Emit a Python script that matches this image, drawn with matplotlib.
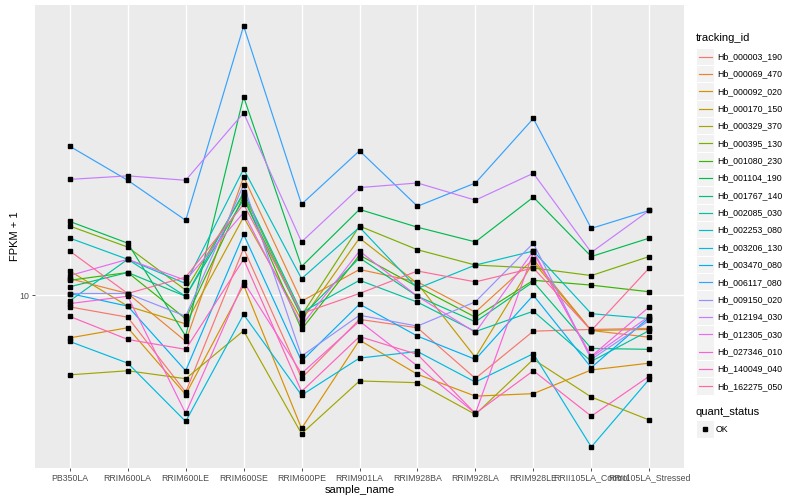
import matplotlib
matplotlib.use("Agg")
import matplotlib.pyplot as plt
from matplotlib.lines import Line2D
from matplotlib.patches import Rectangle

plt.rcParams['font.family'] = ['Liberation Sans', 'DejaVu Sans']

# samples on the x axis
samples = ['PB350LA', 'RRIM600LA', 'RRIM600LE', 'RRIM600SE', 'RRIM600PE', 'RRIM901LA',
           'RRIM928BA', 'RRIM928LA', 'RRIM928LE', 'RRII105LA_Control', 'RRII105LA_Stressed']

# FPKM + 1 per gene, one value per sample
hb_000003_190 = [9.35, 8.81, 5.72, 13.1, 6.20, 8.70, 8.29, 6.19, 8.13, 8.21, 8.26]
hb_000069_470 = [11.0, 10.1, 7.67, 19.8, 9.66, 11.6, 10.8, 9.07, 12.3, 8.16, 7.85]
hb_000092_020 = [7.82, 8.29, 5.64, 10.6, 4.64, 7.72, 6.34, 5.59, 5.67, 6.50, 6.76]
hb_000170_150 = [11.5, 9.39, 8.48, 15.7, 8.65, 13.9, 10.7, 6.99, 12.1, 8.16, 8.21]
hb_000329_370 = [6.32, 6.47, 6.18, 8.15, 4.50, 6.10, 6.04, 5.03, 6.91, 5.56, 4.87]
hb_000395_130 = [14.9, 13.2, 10.3, 17.9, 8.90, 14.9, 13.0, 11.9, 11.7, 11.2, 12.5]
hb_001080_230 = [10.9, 11.4, 8.73, 17.7, 8.21, 12.6, 10.5, 8.81, 10.9, 10.6, 10.2]
hb_001104_190 = [15.3, 13.5, 7.90, 31.4, 11.8, 16.4, 14.8, 13.6, 17.6, 12.5, 13.9]
hb_001767_140 = [10.5, 11.4, 9.94, 17.4, 8.85, 12.4, 9.94, 8.58, 10.8, 7.36, 7.32]
hb_002085_030 = [9.68, 12.3, 9.94, 18.1, 9.05, 10.9, 9.61, 8.11, 9.12, 6.83, 8.16]
hb_002253_080 = [13.9, 12.3, 10.7, 20.7, 11.0, 14.8, 10.4, 11.9, 12.9, 8.99, 8.74]
hb_003206_130 = [7.66, 6.76, 4.83, 8.95, 5.62, 6.96, 7.23, 6.06, 7.14, 4.17, 6.16]
hb_003470_080 = [10.1, 9.39, 6.47, 14.2, 6.84, 9.50, 7.90, 6.91, 10.0, 6.59, 8.80]
hb_006117_080 = [23.6, 19.4, 15.4, 47.2, 16.9, 23.0, 16.7, 19.1, 27.7, 14.7, 16.3]
hb_009150_020 = [10.1, 10.1, 8.86, 18.9, 7.04, 8.91, 8.37, 9.63, 13.5, 6.91, 8.65]
hb_012194_030 = [19.5, 19.9, 19.4, 28.6, 13.6, 18.6, 19.1, 17.3, 20.2, 12.8, 16.3]
hb_012305_030 = [11.2, 12.3, 10.9, 16.1, 8.40, 12.9, 9.94, 8.07, 12.9, 6.99, 8.86]
hb_027346_010 = [9.53, 9.94, 5.06, 10.8, 6.37, 8.61, 6.65, 5.06, 12.8, 7.03, 9.35]
hb_140049_040 = [8.85, 7.75, 7.32, 12.3, 5.74, 7.88, 7.11, 5.06, 6.47, 4.98, 6.27]
hb_162275_050 = [12.9, 10.1, 11.1, 16.9, 9.00, 10.1, 11.5, 10.8, 11.7, 8.16, 11.7]

tracking_ids = ['Hb_000003_190', 'Hb_000069_470', 'Hb_000092_020', 'Hb_000170_150',
                'Hb_000329_370', 'Hb_000395_130', 'Hb_001080_230', 'Hb_001104_190',
                'Hb_001767_140', 'Hb_002085_030', 'Hb_002253_080', 'Hb_003206_130',
                'Hb_003470_080', 'Hb_006117_080', 'Hb_009150_020', 'Hb_012194_030',
                'Hb_012305_030', 'Hb_027346_010', 'Hb_140049_040', 'Hb_162275_050']
series = [hb_000003_190, hb_000069_470, hb_000092_020, hb_000170_150, hb_000329_370,
          hb_000395_130, hb_001080_230, hb_001104_190, hb_001767_140, hb_002085_030,
          hb_002253_080, hb_003206_130, hb_003470_080, hb_006117_080, hb_009150_020,
          hb_012194_030, hb_012305_030, hb_027346_010, hb_140049_040, hb_162275_050]

# ggplot default hue palette for 20 levels
colors = ['#F8766D', '#EA8331', '#D89000', '#C09B00', '#A3A500', '#7CAE00', '#39B600',
          '#00BB4E', '#00BF7D', '#00C1A3', '#00BFC4', '#00BAE0', '#00B0F6', '#35A2FF',
          '#9590FF', '#C77CFF', '#E76BF3', '#FA62DB', '#FF62BC', '#FF6A98']

fig = plt.figure(figsize=(8, 5), dpi=100)
ax = fig.add_axes([35 / 800, 1 - 468 / 500, 649 / 800, 463 / 500])
ax.set_facecolor('#EBEBEB')

x = list(range(len(samples)))
for vals, c in zip(series, colors):
    ax.plot(x, vals, color=c, lw=0.85, zorder=2)
for vals in series:
    ax.plot(x, vals, ls='none', marker='s', ms=2.2, color='black', zorder=3)

ax.set_yscale('log')
ax.margins(y=0.05)
ax.set_xlim(-0.6, len(samples) - 0.4)
ax.set_xticks(x)
ax.set_xticklabels(samples, fontsize=6.3, color='#4D4D4D')
ax.set_yticks([10])
ax.set_yticklabels(['10'], fontsize=6.3, color='#4D4D4D')
ax.minorticks_off()
ax.tick_params(length=2.5, width=0.6, color='#333333', pad=1.5)
ax.grid(True, color='white', lw=1.0)
ax.set_axisbelow(True)
for s in ax.spines.values():
    s.set_visible(False)

ax.set_xlabel('sample_name', fontsize=8, labelpad=2)
ax.set_ylabel('FPKM + 1', fontsize=8, labelpad=0)

# legend: tracking_id
fig.text(696 / 800, 1 - 38 / 500, 'tracking_id', fontsize=8, va='center', ha='left')
step = 17.35
for i, (name, c) in enumerate(zip(tracking_ids, colors)):
    yc = 56.7 + i * step
    fig.patches.append(Rectangle((697 / 800, 1 - (yc + 8.2) / 500), 16.5 / 800, 16.4 / 500,
                                 transform=fig.transFigure, facecolor='#F2F2F2',
                                 edgecolor='none'))
    fig.lines.append(Line2D([698.5 / 800, 712 / 800], [1 - yc / 500, 1 - yc / 500],
                            transform=fig.transFigure, color=c, lw=0.85))
    fig.text(717 / 800, 1 - yc / 500, name, fontsize=6.3, va='center', ha='left')

# legend: quant_status
fig.text(696 / 800, 1 - 412 / 500, 'quant_status', fontsize=8, va='center', ha='left')
fig.patches.append(Rectangle((697 / 800, 1 - 437.5 / 500), 16.5 / 800, 16.4 / 500,
                             transform=fig.transFigure, facecolor='#F2F2F2',
                             edgecolor='none'))
fig.lines.append(Line2D([705.2 / 800], [1 - 429 / 500], transform=fig.transFigure,
                        ls='none', marker='s', ms=2.2, color='black'))
fig.text(716 / 800, 1 - 429 / 500, 'OK', fontsize=6.3, va='center', ha='left')

fig.savefig('out.png', dpi=100)
